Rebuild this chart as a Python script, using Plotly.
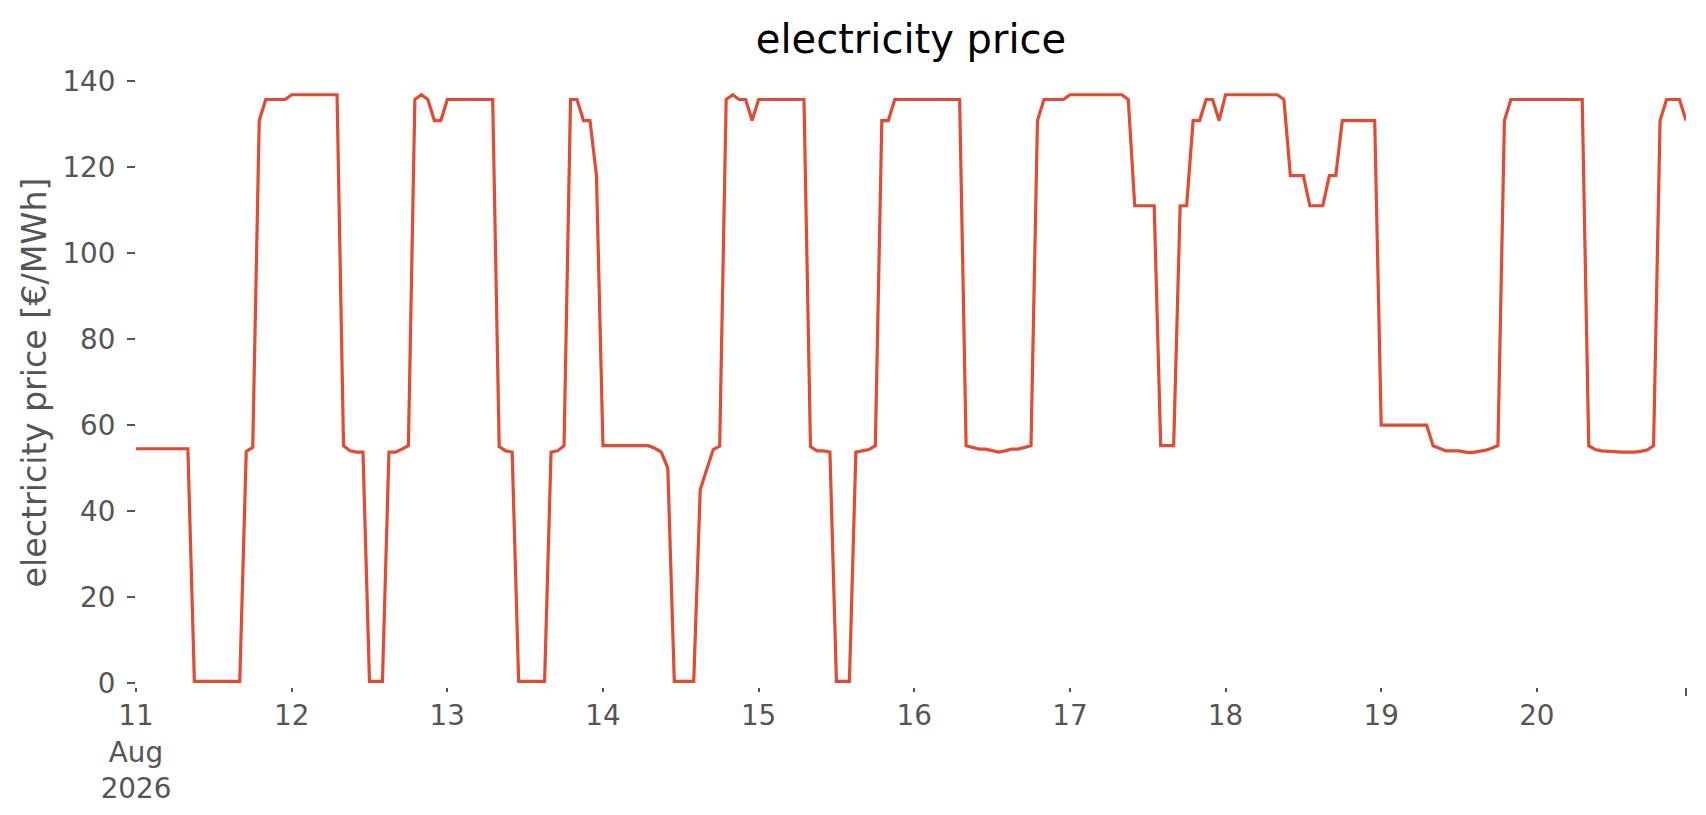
import pandas as pd
import plotly.graph_objects as go

# hourly electricity prices [EUR/MWh], one list per day (00:00 .. 23:00)
aug11 = [54.5]*9 + [0.4]*8 + [53.9, 54.8, 130.8] + [135.7]*4
aug12 = [136.8]*8 + [55.2, 54.0, 53.7, 53.7] + [0.4]*3 + [53.7, 53.7, 54.4, 55.2, 135.7, 136.8, 135.7, 130.8, 130.8]
aug13 = [135.7]*8 + [55.0, 54.0, 53.7] + [0.4]*5 + [53.7, 54.0, 55.2, 135.7, 135.7, 130.8, 130.8, 118.0]
aug14 = [55.2]*8 + [54.6, 53.7, 50.0] + [0.4]*4 + [45.0, 49.6, 54.3, 55.1, 135.7, 136.8, 135.7, 135.7, 130.8]
aug15 = [135.7]*8 + [55.0, 54.0, 54.0, 53.7] + [0.4]*3 + [53.7, 54.0, 54.3, 55.2, 130.8, 130.8, 135.7, 135.7, 135.7]
aug16 = [135.7]*8 + [55.2, 54.8, 54.4, 54.4, 54.0, 53.7, 54.0, 54.4, 54.4, 54.8, 55.2, 130.8] + [135.7]*4
aug17 = [136.8]*9 + [135.7] + [111.0]*4 + [55.2]*3 + [111.0, 111.0, 130.8, 130.8, 135.7, 135.7, 130.8]
aug18 = [136.8]*9 + [135.7] + [118.0]*3 + [111.0]*3 + [118.0]*2 + [130.8]*6
aug19 = [60.0]*8 + [55.2, 54.6, 54.0, 54.0, 54.0, 53.7, 53.6, 53.9, 54.1, 54.6, 55.2, 130.8] + [135.7]*4
aug20 = [135.7]*8 + [55.2, 54.3, 54.0, 53.9, 53.7, 53.7, 53.7, 53.7, 53.9, 54.2, 55.2, 130.8, 135.7, 135.7, 135.7, 130.8]

days = [aug11, aug12, aug13, aug14, aug15, aug16, aug17, aug18, aug19, aug20]
prices = [v for d in days for v in d]
start = "2026-08-11 00:00"
times = pd.date_range(start, periods=len(prices), freq="h")

tick_dates = pd.date_range("2026-08-11", periods=10, freq="D")
tick_labels = ["11<br>Aug<br>2026", "12", "13", "14", "15", "16", "17", "18", "19", "20"]

y_ticks = [0, 20, 40, 60, 80, 100, 120, 140]

FONT = "DejaVu Sans"
GREY = "#555555"

fig = go.Figure()
fig.add_trace(go.Scatter(
    x=times, y=prices, mode="lines",
    line=dict(color="#E24A33", width=3.2),
    showlegend=False,
))

# page body has an 8px default margin, so the figure is shrunk by 8px
fig.update_layout(
    width=1698, height=807,
    paper_bgcolor="white", plot_bgcolor="white",
    margin=dict(l=128, r=20, t=70, b=128, autoexpand=False),
    title=dict(text="electricity price", x=0.5, xref="paper", xanchor="center",
               y=0.962, yref="container", yanchor="middle",
               font=dict(family=FONT, size=40, color="black")),
    font=dict(family=FONT, color=GREY),
)

fig.update_xaxes(
    range=[times[0], times[-1]],
    tickmode="array", tickvals=tick_dates, ticktext=tick_labels,
    ticks="outside", ticklen=4, tickwidth=1.6, tickcolor=GREY,
    tickfont=dict(family=FONT, size=27.8, color=GREY),
    showgrid=False, zeroline=False, showline=False,
    minor=dict(tickmode="array", tickvals=[times[-1]], ticks="outside",
               ticklen=8, tickwidth=1.6, tickcolor=GREY, showgrid=False),
)

fig.update_yaxes(
    range=[-0.9, 140.7],
    tickmode="array", tickvals=y_ticks,
    ticks="outside", ticklen=8, tickwidth=1.6, tickcolor=GREY,
    tickfont=dict(family=FONT, size=27.8, color=GREY),
    ticklabelstandoff=6,
    showgrid=False, zeroline=False, showline=False,
    title=dict(text="electricity price [€/MWh]", font=dict(family=FONT, size=33.3, color=GREY), standoff=5),
)

fig.write_html("out.html")
